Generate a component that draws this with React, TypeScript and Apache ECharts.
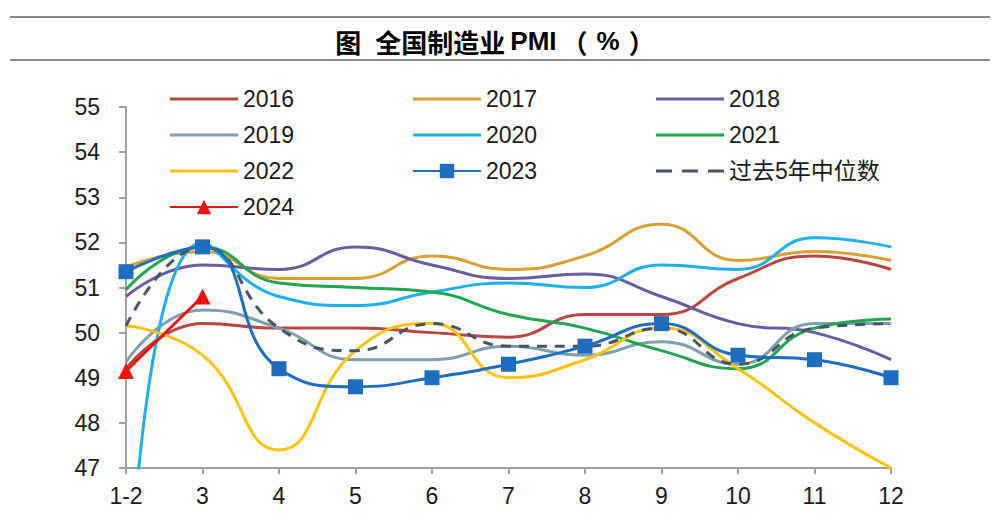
import React, { useEffect, useRef } from "react";
import * as echarts from "echarts";

const categories = ["1-2", "3", "4", "5", "6", "7", "8", "9", "10", "11", "12"];
const yAxisMin = 47;
const yAxisMax = 55;

const pmi2016 = [49.2, 50.2, 50.1, 50.1, 50.0, 49.9, 50.4, 50.4, 51.2, 51.7, 51.4];
const pmi2017 = [51.45, 51.8, 51.2, 51.2, 51.7, 51.4, 51.7, 52.4, 51.6, 51.8, 51.6];
const pmi2018 = [50.8, 51.5, 51.4, 51.9, 51.5, 51.2, 51.3, 50.8, 50.2, 50.0, 49.4];
const pmi2019 = [49.35, 50.5, 50.1, 49.4, 49.4, 49.7, 49.5, 49.8, 49.3, 50.2, 50.2];
const pmi2020 = [42.85, 52.0, 50.8, 50.6, 50.9, 51.1, 51.0, 51.5, 51.4, 52.1, 51.9];
const pmi2021 = [50.95, 51.9, 51.1, 51.0, 50.9, 50.4, 50.1, 49.6, 49.2, 50.1, 50.3];
const pmi2022 = [50.15, 49.5, 47.4, 49.6, 50.2, 49.0, 49.4, 50.1, 49.2, 48.0, 47.0];
const pmi2023 = [51.35, 51.9, 49.2, 48.8, 49.0, 49.3, 49.7, 50.2, 49.5, 49.4, 49.0];
const pmi2024 = [49.15, 50.8];
const median5y = [50.15, 51.9, 50.1, 49.6, 50.2, 49.7, 49.7, 50.1, 49.3, 50.1, 50.2];

const FONT = "'Liberation Sans', Arial, 'Noto Sans CJK SC', sans-serif";
const CJK = "'Noto Sans CJK SC', sans-serif";
const SOLID_ICON = "path://M0,0h68v3h-68z";
const DASH_ICON = "path://M0,0h16v3h-16zM26,0h16v3h-16zM52,0h16v3h-16z";

export default function App() {
  const ref = useRef<HTMLDivElement>(null);
  useEffect(() => {
    if (!ref.current) return;
    const chart = echarts.init(ref.current, undefined, { renderer: "svg" });
    const plain = (name: string, data: number[], color: string) => ({
      name,
      type: "line",
      data,
      smooth: 0.5,
      symbol: "none",
      lineStyle: { color, width: 3 },
      itemStyle: { color },
      clip: true,
    });
    const legendCommon = {
      orient: "vertical",
      top: 82,
      itemWidth: 68,
      itemHeight: 18,
      itemGap: 12,
      textStyle: { fontSize: 23, lineHeight: 24, color: "#1a1a1a", fontFamily: FONT },
    };
    const li = (name: string) => ({ name, icon: SOLID_ICON });
    chart.setOption({
      animation: false,
      backgroundColor: "#ffffff",
      textStyle: { fontFamily: FONT },
      graphic: [
        { type: "line", shape: { x1: 10, y1: 17, x2: 990, y2: 17 }, style: { stroke: "#8a8a8a", lineWidth: 2 } },
        { type: "line", shape: { x1: 10, y1: 60, x2: 990, y2: 60 }, style: { stroke: "#8a8a8a", lineWidth: 2 } },
        {
          type: "text",
          x: 495,
          y: 41,
          style: {
            text: "{c|图}{g| }{c|全国制造业}{s| }{p|PMI}{s| }{c|（}{w| }{p|%}{w| }{c|）}",
            rich: {
              c: { fontFamily: CJK, fontWeight: "bold", fontSize: 26, color: "#111" },
              g: { fontFamily: FONT, fontSize: 14, width: 14 },
              s: { fontFamily: FONT, fontSize: 6, width: 5 },
              w: { fontFamily: FONT, fontSize: 6, width: 9 },
              p: { fontFamily: FONT, fontWeight: "bold", fontSize: 26, color: "#111" },
            },
            textAlign: "center",
            textVerticalAlign: "middle",
          },
        },
      ],
      legend: [
        { ...legendCommon, left: 164, data: [li("2016"), li("2019"), li("2022"), { name: "2024" }] },
        { ...legendCommon, left: 407, data: [li("2017"), li("2020"), { name: "2023" }] },
        { ...legendCommon, left: 651, data: [li("2018"), li("2021"), { name: "过去5年中位数", icon: DASH_ICON }] },
      ],
      grid: { left: 126, right: 109, top: 107, bottom: 62, containLabel: false },
      xAxis: {
        type: "category",
        data: categories,
        boundaryGap: false,
        axisLine: { lineStyle: { color: "#a0a0a0", width: 2 } },
        axisTick: { show: true, length: 6, lineStyle: { color: "#a0a0a0", width: 2 }, alignWithLabel: true },
        axisLabel: { fontSize: 23, color: "#1a1a1a", margin: 16, fontFamily: FONT },
      },
      yAxis: {
        type: "value",
        min: yAxisMin,
        max: yAxisMax,
        interval: 1,
        splitLine: { show: false },
        axisLine: { show: true, lineStyle: { color: "#a0a0a0", width: 2 } },
        axisTick: { show: true, length: 7, lineStyle: { color: "#a0a0a0", width: 2 } },
        axisLabel: { fontSize: 23, color: "#1a1a1a", margin: 26, fontFamily: FONT },
      },
      series: [
        plain("2016", pmi2016, "#B8473F"),
        plain("2017", pmi2017, "#D9A033"),
        plain("2018", pmi2018, "#6A5C9E"),
        plain("2019", pmi2019, "#7E9FAC"),
        plain("2020", pmi2020, "#1DB1EA"),
        plain("2021", pmi2021, "#1FA64E"),
        plain("2022", pmi2022, "#FFC20E"),
        {
          name: "过去5年中位数",
          type: "line",
          data: median5y,
          smooth: 0.5,
          symbol: "none",
          lineStyle: { color: "#475467", width: 3, type: [10, 8] },
          itemStyle: { color: "#475467" },
        },
        {
          name: "2023",
          type: "line",
          data: pmi2023,
          smooth: 0.5,
          symbol: "rect",
          symbolSize: 15,
          showSymbol: true,
          lineStyle: { color: "#1F6DBF", width: 3 },
          itemStyle: { color: "#1F6DBF" },
        },
        {
          name: "2024",
          type: "line",
          data: pmi2024,
          symbol: "triangle",
          symbolSize: 16,
          lineStyle: { color: "#EE1111", width: 3 },
          itemStyle: { color: "#EE1111" },
        },
      ],
    });
    return () => chart.dispose();
  }, []);
  return <div ref={ref} style={{ width: 1000, height: 530, position: "absolute", left: 0, top: 0 }} />;
}
